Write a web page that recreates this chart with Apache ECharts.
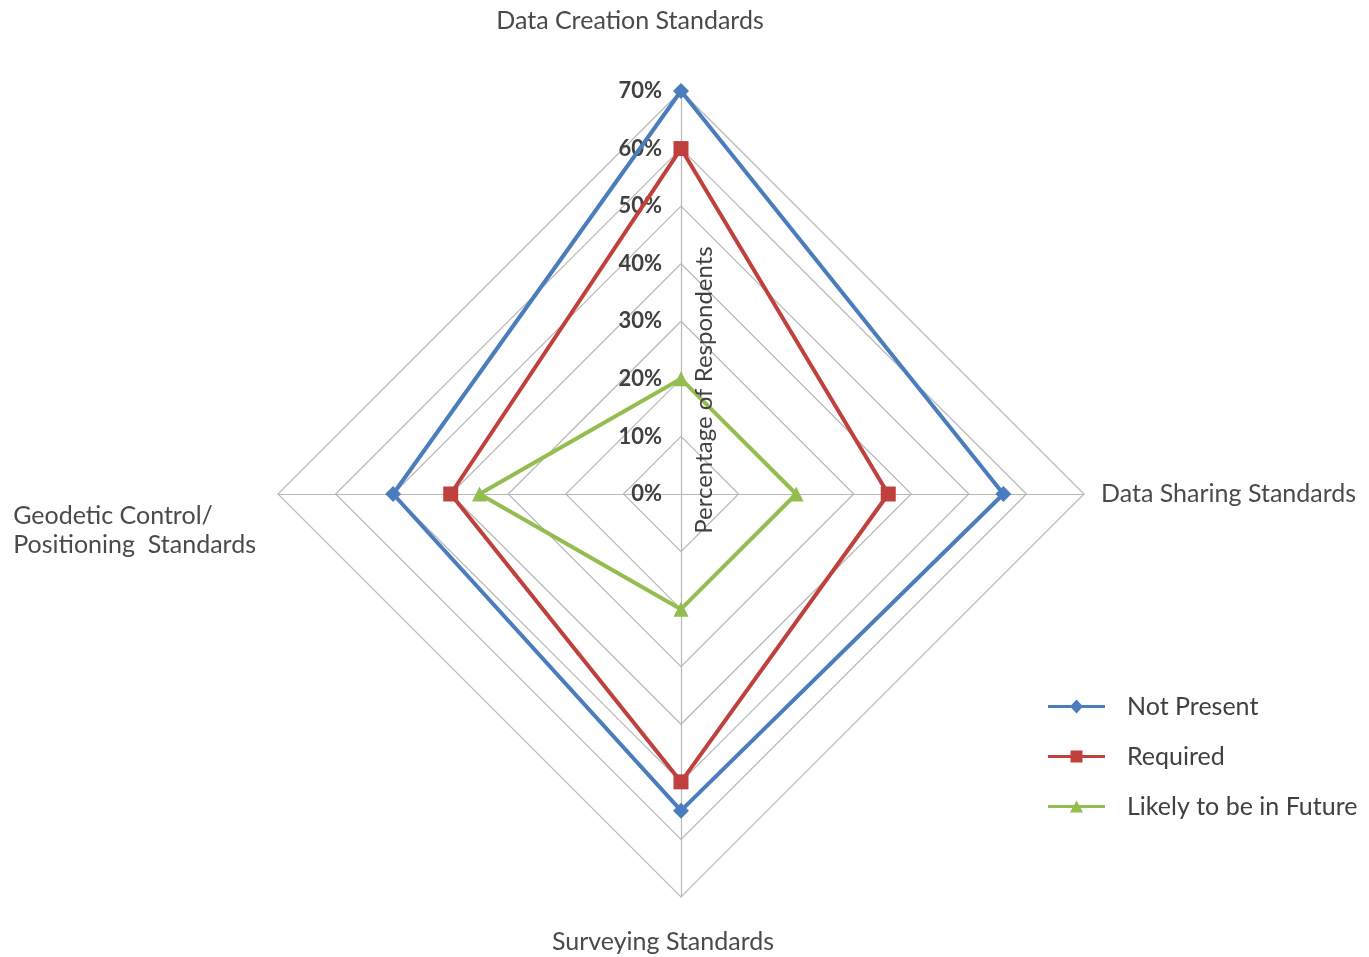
<!DOCTYPE html>
<html>
<head>
<meta charset="utf-8">
<script src="https://cdn.jsdelivr.net/npm/echarts@6/dist/echarts.min.js"></script>
<style>
  html, body { margin: 0; padding: 0; background: #fff; }
  #chart { width: 1369px; height: 957px; }
</style>
</head>
<body>
<div id="chart"></div>
<script>
// Indicators, listed counter-clockwise from the top axis
const categories = ['Data Creation Standards', 'Geodetic Control/\nPositioning  Standards', 'Surveying Standards', 'Data Sharing Standards'];
// Percent of respondents per indicator (same order as categories)
const notPresent = [70, 50, 55, 56];
const required = [60, 40, 50, 36];
const likelyFuture = [20, 35, 20, 20];
const seriesNames = ['Not Present', 'Required', 'Likely to be in Future'];
const tickValues = [0, 10, 20, 30, 40, 50, 60, 70];
const axisTitle = 'Percentage of Respondents';

const FONT = 'Lato, "Open Sans", sans-serif';
const CX = 681, CY = 494, R = 403;
const colors = ['#4a7dbd', '#c0403d', '#93bd4f'];
const symbols = ['diamond', 'rect', 'triangle'];

// legend icons: a line with the series marker in the middle
const iconLine = 'M0,5.5 L57,5.5 L57,8.5 L0,8.5 Z ';
const legendIcons = [
  'path://' + iconLine + 'M22,7 L28.5,0 L35,7 L28.5,14 Z',
  'path://' + iconLine + 'M22.5,1 L34.5,1 L34.5,13 L22.5,13 Z',
  'path://' + iconLine + 'M22,13 L28.5,1 L35,13 Z'
];

const nameStyle = { fontFamily: FONT, fontSize: 25, color: '#4a4a4a' };
const nameTokens = {
  'Data Creation Standards': 'top',
  'Data Sharing Standards': 'right',
  'Surveying Standards': 'bottom',
  'Geodetic Control/\nPositioning  Standards': 'left'
};

const chart = echarts.init(document.getElementById('chart'), null, { renderer: 'canvas' });

const seriesValues = [notPresent, required, likelyFuture];

chart.setOption({
  backgroundColor: '#ffffff',
  animation: false,
  legend: {
    orient: 'vertical',
    left: 1048,
    top: 694,
    padding: 0,
    itemWidth: 57,
    itemHeight: 14,
    itemGap: 25,
    data: seriesNames.map((n, i) => ({ name: n, icon: legendIcons[i], itemStyle: { color: colors[i] } })),
    textStyle: { fontFamily: FONT, fontSize: 25, color: '#404040', padding: [0, 0, 0, 17] }
  },
  radar: {
    center: [CX, CY],
    radius: R,
    startAngle: 90,
    shape: 'polygon',
    splitNumber: 7,
    nameGap: 17,
    indicator: categories.map(c => ({ name: c, min: 0, max: 70 })),
    axisName: {
      formatter: function (name) {
        const t = nameTokens[name];
        if (t === 'left') {
          const parts = name.split('\n');
          return '{sp| }\n{left|' + parts[0] + '}\n{left|' + parts[1] + '}';
        }
        return '{' + t + '|' + name + '}';
      },
      rich: {
        top: Object.assign({ padding: [0, 102, 41, 0] }, nameStyle),
        right: Object.assign({}, nameStyle),
        bottom: Object.assign({ padding: [15, 36, 0, 0] }, nameStyle),
        sp: Object.assign({}, nameStyle, { lineHeight: 73 }),
        left: Object.assign({ align: 'left', lineHeight: 29, padding: [0, 5, 0, 0] }, nameStyle)
      }
    },
    axisLine: { lineStyle: { color: '#b8b8b8', width: 1.2 } },
    splitLine: { lineStyle: { color: '#b8b8b8', width: 1.2 } },
    splitArea: { show: false },
    axisTick: { show: false },
    axisLabel: { show: false }
  },
  // polar system sharing the radar's centre, used for the value labels on the top axis
  polar: { center: [CX, CY], radius: R },
  angleAxis: { type: 'value', startAngle: 90, show: false, min: 0, max: 360 },
  radiusAxis: {
    type: 'value',
    min: 0,
    max: tickValues[tickValues.length - 1],
    interval: 10,
    axisLine: { show: false },
    axisTick: { show: false },
    splitLine: { show: false },
    axisLabel: {
      formatter: '{value}%',
      fontFamily: FONT,
      fontSize: 22,
      fontWeight: 'bold',
      color: '#404040',
      margin: 19
    }
  },
  graphic: [{
    type: 'text',
    x: CX + 23,
    y: CY - 104,
    rotation: Math.PI / 2,
    style: {
      text: axisTitle,
      font: '24px ' + FONT,
      fill: '#404040',
      align: 'center',
      verticalAlign: 'middle'
    },
    z: 5
  }],
  series: [{
    type: 'radar',
    symbolSize: 14,
    data: seriesNames.map((n, i) => ({
      name: n,
      value: seriesValues[i],
      symbol: symbols[i],
      symbolSize: i === 0 ? 16 : 15,
      lineStyle: { color: colors[i], width: 4 },
      itemStyle: { color: colors[i] }
    }))
  }]
});
</script>
</body>
</html>
